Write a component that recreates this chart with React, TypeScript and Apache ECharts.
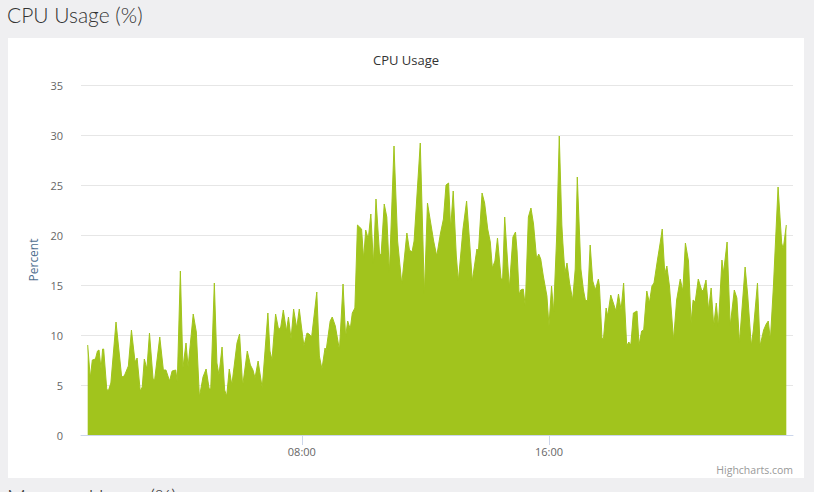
import React, { useEffect, useRef } from "react";
import * as echarts from "echarts";

// Minutes since midnight for each reading, and CPU usage (%)
const minutesOfDay = [
  64, 69, 73, 79, 83, 86, 90, 93, 95, 101, 104, 109, 119, 130, 135, 143, 149, 156, 160, 166,
  170, 174, 179, 184, 191, 194, 204, 211, 216, 223, 228, 235, 238, 244, 249, 255, 259, 269, 275, 281,
  288, 294, 300, 303, 310, 315, 319, 325, 330, 334, 339, 344, 354, 359, 365, 374, 380, 385, 389, 395,
  403, 414, 418, 422, 429, 435, 439, 444, 450, 454, 459, 464, 470, 475, 479, 484, 490, 494, 499, 509,
  514, 519, 525, 527, 535, 539, 545, 553, 560, 565, 569, 574, 578, 583, 588, 592, 596, 600, 604, 609,
  614, 619, 624, 631, 634, 640, 645, 650, 659, 666, 674, 684, 689, 694, 698, 710, 718, 724, 729, 736,
  742, 749, 755, 760, 765, 769, 774, 780, 784, 793, 800, 806, 811, 820, 823, 830, 835, 841, 846, 850,
  855, 860, 867, 870, 874, 878, 883, 890, 895, 898, 902, 905, 910, 914, 920, 925, 930, 936, 940, 944,
  949, 956, 960, 965, 969, 975, 980, 985, 987, 991, 995, 1000, 1006, 1011, 1015, 1022, 1027, 1031, 1035, 1040,
  1045, 1050, 1056, 1058, 1063, 1066, 1071, 1074, 1080, 1085, 1090, 1095, 1100, 1105, 1111, 1115, 1119, 1124, 1131, 1135,
  1140, 1144, 1150, 1155, 1160, 1164, 1171, 1176, 1180, 1185, 1189, 1194, 1202, 1208, 1215, 1220, 1225, 1231, 1236, 1240,
  1244, 1250, 1257, 1260, 1265, 1270, 1275, 1280, 1285, 1289, 1296, 1299, 1306, 1312, 1320, 1325, 1330, 1341, 1346, 1353,
  1357, 1365, 1370, 1377, 1382, 1386, 1390, 1396, 1405, 1412, 1415, 1421,
];

const cpuPercent = [
  9.0, 5.7, 7.5, 7.6, 8.4, 8.5, 6.6, 8.6, 8.6, 4.6, 4.4, 5.2, 11.3, 5.8, 5.9, 6.9, 10.5, 7.3, 7.7, 4.4,
  4.8, 7.6, 6.6, 10.2, 5.6, 5.5, 9.8, 6.5, 6.5, 5.4, 6.4, 6.5, 5.3, 16.4, 6.7, 9.2, 6.8, 12.1, 10.3, 3.8,
  5.8, 6.6, 4.6, 4.6, 15.2, 7.2, 6.0, 8.8, 4.5, 3.9, 6.6, 5.0, 9.2, 10.1, 4.9, 8.4, 7.0, 6.5, 5.7, 7.4,
  4.7, 12.2, 8.4, 7.5, 12.1, 10.5, 10.8, 12.5, 10.4, 11.8, 9.6, 12.6, 10.7, 12.6, 10.9, 8.9, 10.2, 10.1, 9.8, 14.3,
  7.9, 6.6, 8.7, 8.4, 11.4, 11.8, 10.9, 8.5, 15.1, 9.8, 11.4, 10.6, 12.2, 12.7, 21.0, 20.8, 20.6, 17.6, 20.5, 19.6,
  22.1, 17.1, 23.6, 18.0, 18.1, 23.1, 21.8, 16.2, 28.9, 19.4, 15.1, 20.2, 18.5, 18.3, 19.4, 29.2, 14.1, 23.2, 21.6, 19.4,
  17.9, 20.1, 21.6, 25.0, 25.2, 20.6, 24.4, 17.9, 15.4, 20.6, 23.4, 19.2, 15.4, 18.6, 18.4, 24.2, 23.2, 20.6, 19.3, 16.7,
  17.4, 19.7, 15.6, 15.6, 21.8, 18.6, 14.7, 19.8, 20.3, 18.4, 14.0, 14.5, 14.6, 12.9, 21.8, 22.7, 21.1, 17.6, 18.1, 17.6,
  15.9, 13.9, 10.9, 14.9, 12.3, 19.9, 29.9, 21.0, 19.2, 16.2, 17.2, 15.2, 13.5, 16.6, 25.8, 16.6, 14.5, 13.4, 13.5, 19.0,
  15.4, 14.5, 15.6, 14.9, 9.6, 9.7, 12.7, 11.9, 14.0, 13.2, 12.4, 14.1, 12.5, 15.2, 8.9, 9.3, 9.0, 12.2, 12.4, 9.0,
  10.4, 10.5, 14.4, 13.2, 14.9, 15.2, 17.6, 19.2, 20.6, 16.1, 16.9, 14.9, 9.5, 13.5, 15.6, 14.4, 19.2, 17.4, 11.2, 13.5,
  13.3, 15.6, 14.4, 14.5, 15.5, 12.5, 14.7, 10.9, 13.2, 10.8, 17.5, 16.2, 19.3, 10.9, 14.5, 13.7, 9.2, 16.8, 14.0, 8.9,
  10.5, 15.2, 8.9, 10.5, 11.1, 11.4, 9.5, 14.9, 24.8, 19.2, 18.6, 21.0,
];

const yTicks = [0, 5, 10, 15, 20, 25, 30, 35];
const xLabelMinutes = [480, 960]; // 08:00, 16:00

const fmtTime = (m: number) => {
  const h = Math.floor(m / 60);
  const mm = Math.round(m % 60);
  return `${String(h).padStart(2, "0")}:${String(mm).padStart(2, "0")}`;
};

export default function App() {
  const ref = useRef<HTMLDivElement>(null);

  useEffect(() => {
    document.body.style.margin = "0";
    const chart = echarts.init(ref.current!, null, { renderer: "svg" });
    const data = minutesOfDay.map((m, i) => [m, cpuPercent[i]]);
    chart.setOption({
      animation: false,
      backgroundColor: "#ffffff",
      textStyle: { fontFamily: "Open Sans" },
      title: {
        text: "CPU Usage",
        left: "center",
        top: 10,
        textStyle: { fontSize: 13, fontWeight: "normal", color: "#333333", fontFamily: "Open Sans" },
      },
      grid: { left: 73, right: 11, top: 47, bottom: 43 },
      xAxis: {
        type: "value",
        min: 51,
        max: 1434,
        axisLine: { show: true, lineStyle: { color: "#ccd6eb", width: 1 } },
        axisTick: {
          show: true,
          customValues: xLabelMinutes,
          length: 10,
          lineStyle: { color: "#ccd6eb" },
        },
        axisLabel: {
          customValues: xLabelMinutes,
          formatter: (v: number) => fmtTime(v),
          color: "#666666",
          fontSize: 11,
          margin: 11,
          fontFamily: "Open Sans",
        },
        splitLine: { show: false },
      },
      yAxis: {
        type: "value",
        min: yTicks[0],
        max: yTicks[yTicks.length - 1],
        interval: 5,
        name: "Percent",
        nameLocation: "middle",
        nameGap: 41,
        nameTextStyle: { color: "#4f6f8f", fontSize: 12, fontFamily: "Open Sans" },
        axisLine: { show: false },
        axisTick: { show: false },
        axisLabel: { color: "#666666", fontSize: 11, margin: 18, fontFamily: "Open Sans" },
        splitLine: { lineStyle: { color: "#e6e6e6", width: 1 } },
      },
      graphic: [
        {
          type: "text",
          right: 11,
          top: 426,
          style: { text: "Highcharts.com", fill: "#999999", fontSize: 10.5, fontFamily: "Open Sans" },
        },
      ],
      series: [
        {
          type: "line",
          data,
          symbol: "none",
          lineStyle: { color: "#a1c41d", width: 1 },
          areaStyle: { color: "#a1c41d", opacity: 1 },
          itemStyle: { color: "#a1c41d" },
        },
      ],
    });
    return () => chart.dispose();
  }, []);

  return (
    <div
      style={{
        position: "relative",
        width: 814,
        height: 492,
        background: "#efeff1",
        overflow: "hidden",
        fontFamily: "Lato, 'Open Sans', sans-serif",
      }}
    >
      <div
        style={{
          position: "absolute",
          left: 7,
          top: 2,
          fontSize: 21,
          fontWeight: 300,
          color: "#333333",
          lineHeight: "26px",
          whiteSpace: "nowrap",
        }}
      >
        CPU Usage (%)
      </div>
      <div
        ref={ref}
        style={{ position: "absolute", left: 8, top: 38, width: 796, height: 440, background: "#ffffff" }}
      />
      <div
        style={{
          position: "absolute",
          left: 7,
          top: 484,
          fontSize: 21,
          fontWeight: 300,
          color: "#333333",
          lineHeight: "26px",
          whiteSpace: "nowrap",
        }}
      >
        Memory Usage (%)
      </div>
    </div>
  );
}
